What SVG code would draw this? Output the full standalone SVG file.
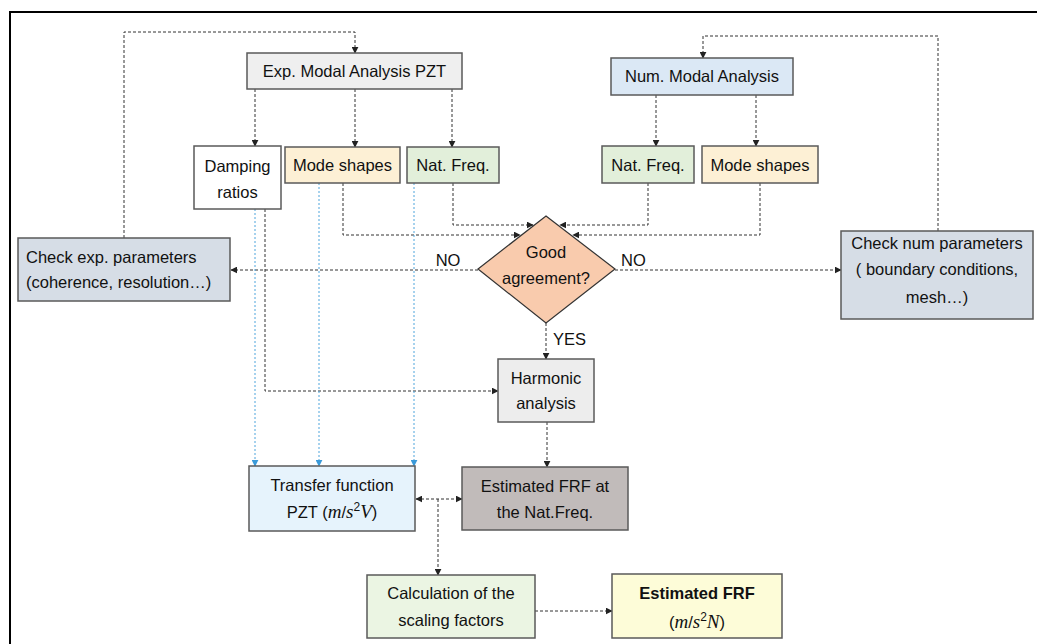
<svg xmlns="http://www.w3.org/2000/svg" width="1037" height="644" viewBox="0 0 1037 644">
<style>
.box{stroke:#5a5a5a;stroke-width:1.5}
.t{font-family:"Liberation Sans",Arial,sans-serif;font-size:16.5px;fill:#111}
.c{text-anchor:middle}
.m{font-family:"Liberation Serif","Times New Roman",serif;font-style:italic;font-size:19px}
.cn{fill:none;stroke:#333;stroke-width:1;stroke-dasharray:3,2}
.bl{fill:none;stroke:#4ea5dc;stroke-width:1;stroke-dasharray:2,2}
</style>
<defs>
<marker id="ah" viewBox="0 0 10 10" refX="9" refY="5" markerWidth="7" markerHeight="7" markerUnits="userSpaceOnUse" orient="auto-start-reverse"><path d="M0,0 L10,5 L0,10 z" fill="#222"/></marker>
<marker id="ab" viewBox="0 0 10 10" refX="9" refY="5" markerWidth="7" markerHeight="7" markerUnits="userSpaceOnUse" orient="auto"><path d="M0,0 L10,5 L0,10 z" fill="#3a9ad9"/></marker>
</defs>
<rect width="1037" height="644" fill="#fff"/>
<path d="M10,644 V12 H1037" fill="none" stroke="#000" stroke-width="2"/>

<g id="connectors">
<path class="cn" d="M124,238 V32 H355 V53" marker-end="url(#ah)"/>
<path class="cn" d="M938,231 V36 H703 V58" marker-end="url(#ah)"/>
<path class="cn" d="M255,89 V146" marker-end="url(#ah)"/>
<path class="cn" d="M355,89 V147" marker-end="url(#ah)"/>
<path class="cn" d="M452,89 V147" marker-end="url(#ah)"/>
<path class="cn" d="M656,95 V146" marker-end="url(#ah)"/>
<path class="cn" d="M756,95 V146" marker-end="url(#ah)"/>
<path class="cn" d="M343,183 V235 H520" marker-end="url(#ah)"/>
<path class="cn" d="M453,183 V225 H533" marker-end="url(#ah)"/>
<path class="cn" d="M648,183 V225 H560" marker-end="url(#ah)"/>
<path class="cn" d="M760,183 V235 H573" marker-end="url(#ah)"/>
<path class="cn" d="M478,270 H231" marker-end="url(#ah)"/>
<path class="cn" d="M615,270 H841" marker-end="url(#ah)"/>
<path class="cn" d="M546,323 V359" marker-end="url(#ah)"/>
<path class="cn" d="M265,209 V391 H498" marker-end="url(#ah)"/>
<path class="cn" d="M547,422 V467" marker-end="url(#ah)"/>
<path class="bl" d="M255,209 V466" marker-end="url(#ab)"/>
<path class="bl" d="M319,183 V466" marker-end="url(#ab)"/>
<path class="bl" d="M414,183 V466" marker-end="url(#ab)"/>
<path class="cn" d="M416,499 H462" marker-start="url(#ah)" marker-end="url(#ah)"/>
<path class="cn" d="M438,499 V575" marker-end="url(#ah)"/>
<path class="cn" d="M535,611 H612" marker-end="url(#ah)"/>
</g>

<g id="exp-modal">
<rect class="box" x="247" y="53" width="215" height="36" fill="#efefef"/>
<text class="t c" x="354.5" y="77">Exp. Modal Analysis PZT</text>
</g>
<g id="num-modal">
<rect class="box" x="611" y="58" width="182" height="37" fill="#dbe8f5"/>
<text class="t c" x="702" y="82">Num. Modal Analysis</text>
</g>
<g id="damping">
<rect class="box" x="194" y="146" width="87" height="63" fill="#fff"/>
<text class="t c" x="237.5" y="172">Damping</text>
<text class="t c" x="237.5" y="198">ratios</text>
</g>
<g id="mode-exp">
<rect class="box" x="285" y="147" width="115" height="36" fill="#fdf0d5"/>
<text class="t c" x="342.5" y="171">Mode shapes</text>
</g>
<g id="nat-exp">
<rect class="box" x="407" y="147" width="92" height="36" fill="#e2efda"/>
<text class="t c" x="453" y="171">Nat. Freq.</text>
</g>
<g id="nat-num">
<rect class="box" x="602" y="146" width="92" height="37" fill="#e2efda"/>
<text class="t c" x="648" y="171">Nat. Freq.</text>
</g>
<g id="mode-num">
<rect class="box" x="702" y="146" width="116" height="37" fill="#fdf0d5"/>
<text class="t c" x="760" y="171">Mode shapes</text>
</g>
<g id="check-exp">
<rect class="box" x="18" y="238" width="212" height="63" fill="#d6dde6"/>
<text class="t" x="26" y="263">Check exp. parameters</text>
<text class="t" x="26" y="288">(coherence, resolution…)</text>
</g>
<g id="decision">
<path d="M546,216 L615,269 L546,323 L478,269 Z" fill="#f9cbad" stroke="#333" stroke-width="1.2"/>
<text class="t c" x="546" y="258">Good</text>
<text class="t c" x="546" y="284">agreement?</text>
<text class="t c" x="448" y="266">NO</text>
<text class="t" x="621" y="266">NO</text>
<text class="t" x="553" y="345">YES</text>
</g>
<g id="check-num">
<rect class="box" x="841" y="231" width="192" height="88" fill="#d6dde6"/>
<text class="t c" x="937" y="249">Check num parameters</text>
<text class="t c" x="937" y="275">( boundary conditions,</text>
<text class="t c" x="937" y="303">mesh…)</text>
</g>
<g id="harmonic">
<rect class="box" x="498" y="359" width="96" height="63" fill="#ededed"/>
<text class="t c" x="546" y="384">Harmonic</text>
<text class="t c" x="546" y="409">analysis</text>
</g>
<g id="transfer">
<rect class="box" x="249" y="466" width="166" height="65" fill="#e6f3fc"/>
<text class="t c" x="332" y="491">Transfer function</text>
<text class="t c" x="332" y="518">PZT (<tspan class="m">m</tspan>/<tspan class="m">s</tspan><tspan font-size="12" dy="-7">2</tspan><tspan class="m" dy="7">V</tspan>)</text>
</g>
<g id="est-frf-nat">
<rect class="box" x="462" y="467" width="166" height="63" fill="#c1bbba"/>
<text class="t c" x="545" y="492">Estimated FRF at</text>
<text class="t c" x="545" y="518">the Nat.Freq.</text>
</g>
<g id="calc">
<rect class="box" x="367" y="575" width="168" height="63" fill="#ebf5e3"/>
<text class="t c" x="451" y="599">Calculation of the</text>
<text class="t c" x="451" y="626">scaling factors</text>
</g>
<g id="est-frf">
<rect class="box" x="612" y="574" width="170" height="64" fill="#fdfcd8"/>
<text class="t c" x="697" y="599" font-weight="bold">Estimated FRF</text>
<text class="t c" x="697" y="628">(<tspan class="m">m</tspan>/<tspan class="m">s</tspan><tspan font-size="12" dy="-7">2</tspan><tspan class="m" dy="7">N</tspan>)</text>
</g>
</svg>
